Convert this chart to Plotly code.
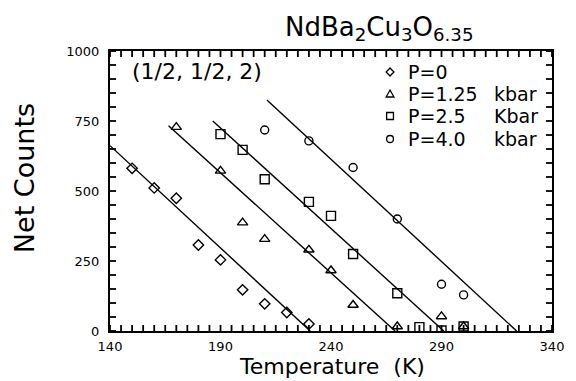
import plotly.graph_objects as go

# ---- data ----
t_p0 = [150, 160, 170, 180, 190, 200, 210, 220, 230]
c_p0 = [581, 511, 474, 307, 254, 147, 97, 66, 25]

t_p125 = [170, 190, 200, 210, 230, 240, 250, 270, 290, 300]
c_p125 = [728, 572, 387, 328, 290, 216, 93, 16, 52, 16]

t_p25 = [190, 200, 210, 230, 240, 250, 270, 280, 290, 300]
c_p25 = [703, 647, 542, 461, 411, 275, 135, 14, 2, 16]

t_p40 = [210, 230, 250, 270, 290, 300]
c_p40 = [718, 679, 584, 400, 167, 129]

# fitted straight lines (end points)
fit_p0_t, fit_p0_c = [140, 230.6], [662, 0]
fit_p125_t, fit_p125_c = [166.5, 269], [733, 0]
fit_p25_t, fit_p25_c = [186.5, 291], [750, 0]
fit_p40_t, fit_p40_c = [211, 324], [825, 0]

legend_labels = ["P=0", "P=1.25", "P=2.5", "P=4.0"]
legend_units = ["", "kbar", "Kbar", "kbar"]

x_labels = [140, 190, 240, 290, 340]
y_labels = [0, 250, 500, 750, 1000]
x_tick_step = 5
y_tick_step = 50

symbols = ["diamond-open", "triangle-up-open", "square-open", "circle-open"]
sizes = [8, 9, 9, 8]
series = [(t_p0, c_p0), (t_p125, c_p125), (t_p25, c_p25), (t_p40, c_p40)]
fits = [(fit_p0_t, fit_p0_c), (fit_p125_t, fit_p125_c),
        (fit_p25_t, fit_p25_c), (fit_p40_t, fit_p40_c)]

W, H = 576, 381
L, R, T, B = 110, 13, 51, 50
pw, ph = W - L - R, H - T - B


def px(xp):
    return (xp - L) / pw


def py(yp):
    return (H - B - yp) / ph


fig = go.Figure()
for (ft, fc) in fits:
    fig.add_trace(go.Scatter(x=ft, y=fc, mode="lines",
                             line=dict(color="black", width=1.4),
                             showlegend=False, hoverinfo="skip"))
for (t, c), s, sz in zip(series, symbols, sizes):
    fig.add_trace(go.Scatter(x=t, y=c, mode="markers",
                             marker=dict(symbol=s, size=sz, color="black",
                                         line=dict(color="black", width=1.4)),
                             showlegend=False))

shapes = []

# inward ticks on all four sides (pixel-sized shapes anchored to the axes)
TL = 6
tick_line = dict(color="black", width=1.8)
for v in range(x_labels[0], x_labels[-1] + 1, x_tick_step):
    shapes.append(dict(type="line", xref="x", yref="paper", x0=v, x1=v,
                       ysizemode="pixel", yanchor=0, y0=0, y1=TL, line=tick_line))
    shapes.append(dict(type="line", xref="x", yref="paper", x0=v, x1=v,
                       ysizemode="pixel", yanchor=1, y0=0, y1=-TL, line=tick_line))
for v in range(y_labels[0], y_labels[-1] + 1, y_tick_step):
    shapes.append(dict(type="line", xref="paper", yref="y", y0=v, y1=v,
                       xsizemode="pixel", xanchor=0, x0=0, x1=TL, line=tick_line))
    shapes.append(dict(type="line", xref="paper", yref="y", y0=v, y1=v,
                       xsizemode="pixel", xanchor=1, x0=0, x1=-TL, line=tick_line))

# legend key symbols as paper-referenced shapes
leg_rows = [72, 94, 116, 139]
kx = 397
r0 = 4
key_line = dict(color="black", width=1.3)
cy = leg_rows[0]
shapes.append(dict(type="path", xref="paper", yref="paper",
                   path=f"M {px(kx)} {py(cy - r0)} L {px(kx + r0)} {py(cy)} "
                        f"L {px(kx)} {py(cy + r0)} L {px(kx - r0)} {py(cy)} Z",
                   line=key_line))
cy = leg_rows[1]
shapes.append(dict(type="path", xref="paper", yref="paper",
                   path=f"M {px(kx)} {py(cy - 4)} L {px(kx + 4)} {py(cy + 3)} "
                        f"L {px(kx - 4)} {py(cy + 3)} Z",
                   line=key_line))
cy = leg_rows[2]
shapes.append(dict(type="rect", xref="paper", yref="paper",
                   x0=px(kx - 3.5), x1=px(kx + 3.5), y0=py(cy + 3.5), y1=py(cy - 3.5),
                   line=key_line))
cy = leg_rows[3]
shapes.append(dict(type="circle", xref="paper", yref="paper",
                   x0=px(kx - 3.5), x1=px(kx + 3.5), y0=py(cy + 3.5), y1=py(cy - 3.5),
                   line=key_line))

font_main = "DejaVu Sans"
ann = []
for lab, unit, r in zip(legend_labels, legend_units, leg_rows):
    ann.append(dict(x=px(413), y=py(r), xref="paper", yref="paper", text=lab,
                    showarrow=False, xanchor="left", yanchor="middle",
                    font=dict(family=font_main, size=19, color="black")))
    if unit:
        ann.append(dict(x=px(502), y=py(r), xref="paper", yref="paper", text=unit,
                        showarrow=False, xanchor="left", yanchor="middle",
                        font=dict(family=font_main, size=19, color="black")))

ann.append(dict(x=px(131), y=py(71), xref="paper", yref="paper", text="(1/2, 1/2, 2)",
                showarrow=False, xanchor="left", yanchor="middle",
                font=dict(family=font_main, size=22, color="black")))
ann.append(dict(x=px(287), y=py(28), xref="paper", yref="paper",
                text="NdBa<sub>2</sub>Cu<sub>3</sub>O<sub>6.35</sub>",
                showarrow=False, xanchor="left", yanchor="middle",
                font=dict(family=font_main, size=26, color="black")))
ann.append(dict(x=px(338), y=py(366), xref="paper", yref="paper",
                text="Temperature  (K)",
                showarrow=False, xanchor="center", yanchor="middle",
                font=dict(family=font_main, size=22, color="black")))
ann.append(dict(x=px(22), y=py(178), xref="paper", yref="paper",
                text="Net Counts", textangle=-90,
                showarrow=False, xanchor="center", yanchor="middle",
                font=dict(family=font_main, size=27, color="black")))

axis_common = dict(showgrid=False, zeroline=False, showline=True, linecolor="black",
                   linewidth=2, mirror=True, ticks="", tickmode="array",
                   tickfont=dict(family=font_main, size=13, color="black"))

fig.update_layout(
    width=W, height=H,
    margin=dict(l=L, r=R, t=T, b=B),
    paper_bgcolor="white", plot_bgcolor="white",
    xaxis=dict(range=[140, 340], tickvals=x_labels, ticklabelstandoff=2, **axis_common),
    yaxis=dict(range=[0, 1000], tickvals=y_labels, ticklabelstandoff=6, **axis_common),
    shapes=shapes,
    annotations=ann,
    showlegend=False,
)

fig.write_html("out.html")
